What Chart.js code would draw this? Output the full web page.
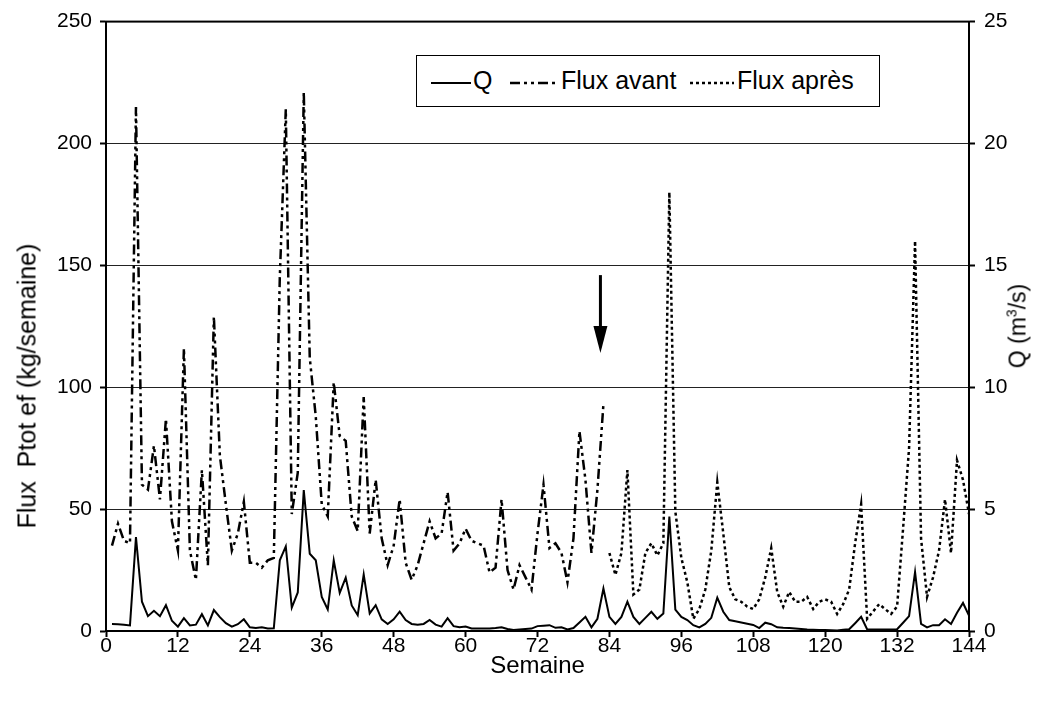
<!DOCTYPE html>
<html lang="fr">
<head>
  <meta charset="UTF-8" />
  <title>Flux Ptot ef et débit Q par semaine</title>
  <script src="https://cdn.jsdelivr.net/npm/chart.js"></script>
  <style>
    body {
      margin: 0;
      background: #fff;
      font-family: "Liberation Sans", Arial, sans-serif;
    }

    .wrap {
      position: relative;
      width: 1039px;
      height: 706px;
    }

    .ytitle {
      position: absolute;
      white-space: pre;
      font-size: 25px;
      color: #000;
      transform: translate(-50%, -50%) rotate(-90deg);
    }

    .ytitle.right {
      font-size: 23px;
    }

    .ytitle sup {
      font-size: 14px;
      vertical-align: 9px;
      line-height: 0;
    }

    #legend {
      position: absolute;
      left: 416px;
      top: 55px;
      width: 462px;
      height: 50px;
      border: 1.5px solid #000;
      background: #fff;
      font-size: 25px;
      color: #000;
    }

    #legend span, #legend svg {
      position: absolute;
    }

    #legend span {
      top: 10px;
      white-space: nowrap;
    }
  </style>
</head>
<body>

  <div class="wrap">
    <canvas id="fluxChart" width="1039" height="706"></canvas>

    <div class="ytitle" style="left: 27px; top: 386px;">Flux  Ptot ef (kg/semaine)</div>
    <div class="ytitle right" style="left: 1018px; top: 326px;">Q (m<sup>3</sup>/s)</div>

    <div id="legend">
      <svg style="left: 14px; top: 22px;" width="40" height="10"><line x1="0" y1="5" x2="40" y2="5" stroke="#000" stroke-width="2" /></svg>
      <span style="left: 56px;">Q</span>
      <svg style="left: 93px; top: 22px;" width="48" height="10"><line x1="0" y1="5" x2="48" y2="5" stroke="#000" stroke-width="2.5" stroke-dasharray="10 4 3 4 3 4" /></svg>
      <span style="left: 144px;">Flux avant</span>
      <svg style="left: 273px; top: 22px;" width="44" height="10"><line x1="0" y1="5" x2="44" y2="5" stroke="#000" stroke-width="2.5" stroke-dasharray="3 3" /></svg>
      <span style="left: 320px;">Flux après</span>
    </div>
  </div>

  <script>
    // semaines 1..144
    const weeks = [
      1, 2, 3, 4, 5, 6, 7, 8, 9, 10, 11, 12, 13, 14, 15, 16, 17, 18, 19, 20, 21, 22, 23, 24,
      25, 26, 27, 28, 29, 30, 31, 32, 33, 34, 35, 36, 37, 38, 39, 40, 41, 42, 43, 44, 45, 46, 47, 48,
      49, 50, 51, 52, 53, 54, 55, 56, 57, 58, 59, 60, 61, 62, 63, 64, 65, 66, 67, 68, 69, 70, 71, 72,
      73, 74, 75, 76, 77, 78, 79, 80, 81, 82, 83, 84, 85, 86, 87, 88, 89, 90, 91, 92, 93, 94, 95, 96,
      97, 98, 99, 100, 101, 102, 103, 104, 105, 106, 107, 108, 109, 110, 111, 112, 113, 114, 115, 116, 117, 118, 119, 120,
      121, 122, 123, 124, 125, 126, 127, 128, 129, 130, 131, 132, 133, 134, 135, 136, 137, 138, 139, 140, 141, 142, 143, 144
    ];

    // débit Q (m3/s), semaines 1..144
    const debitQ = [
      0.29, 0.28, 0.26, 0.23, 3.85, 1.20, 0.61, 0.83, 0.61, 1.06, 0.42, 0.18,
      0.53, 0.23, 0.26, 0.69, 0.23, 0.86, 0.57, 0.32, 0.18, 0.28, 0.48, 0.15,
      0.12, 0.15, 0.10, 0.11, 2.90, 3.47, 0.96, 1.58, 5.78, 3.17, 2.90, 1.40,
      0.88, 2.90, 1.56, 2.19, 1.05, 0.65, 2.32, 0.72, 1.06, 0.48, 0.29, 0.48,
      0.79, 0.45, 0.29, 0.26, 0.29, 0.45, 0.26, 0.18, 0.53, 0.20, 0.15, 0.18,
      0.10, 0.10, 0.10, 0.10, 0.12, 0.15, 0.08, 0.04, 0.06, 0.08, 0.10, 0.20,
      0.22, 0.24, 0.13, 0.15, 0.06, 0.12, 0.35, 0.58, 0.15, 0.50, 1.74, 0.58,
      0.29, 0.58, 1.20, 0.58, 0.29, 0.54, 0.79, 0.50, 0.72, 4.69, 0.88, 0.58,
      0.45, 0.24, 0.15, 0.29, 0.54, 1.37, 0.79, 0.45, 0.40, 0.35, 0.30, 0.25,
      0.12, 0.34, 0.28, 0.15, 0.13, 0.12, 0.10, 0.08, 0.06, 0.05, 0.04, 0.04,
      0.03, 0.02, 0.05, 0.07, 0.32, 0.58, 0.07, 0.06, 0.06, 0.06, 0.06, 0.07,
      0.34, 0.61, 2.42, 0.29, 0.15, 0.24, 0.24, 0.48, 0.29, 0.75, 1.15, 0.63
    ];

    // flux avant (kg/semaine), semaines 1..83
    const fluxAvant = [
      35, 44, 37, 36, 215, 60, 58, 76, 54, 87, 45, 33,
      116, 33, 21, 66, 27, 129, 72, 52, 33, 40, 53, 28,
      28, 26, 29, 30, 145, 214, 48, 65, 221, 112, 88, 52,
      47, 102, 80, 78, 47, 41, 96, 40, 62, 38, 27, 35,
      54, 28, 21, 27, 36, 45, 38, 40, 57, 33, 36, 42,
      37, 36, 35, 24, 26, 54, 25, 17, 27, 22, 17, 40,
      60, 34, 36, 32, 20, 38, 82, 62, 32, 58, 93
    ];

    // flux après (kg/semaine), semaines 84..144
    const fluxApres = [
      32, 23, 32, 66, 15, 17, 32, 36, 31, 36, 180, 49,
      30, 20, 5, 9, 17, 33, 61, 40, 18, 13, 12, 10,
      9, 13, 22, 34, 16, 10, 16, 12, 12, 14, 9, 12,
      13, 12, 7, 11, 17, 36, 52, 5, 8, 11, 9, 7,
      10, 42, 75, 160, 38, 14, 22, 33, 54, 32, 70, 62, 48
    ];

    // flèche : semaine et valeurs (kg/semaine)
    const arrowWeek = 82.5;
    const arrowFrom = 146;
    const arrowTo = 114;

    const avantWeeks = weeks.slice(0, fluxAvant.length);
    const apresWeeks = weeks.slice(weeks.length - fluxApres.length);

    const font = '"Liberation Sans", Arial, sans-serif';

    const plotFrame = {
      id: 'plotFrame',
      afterDraw(chart) {
        const { ctx, chartArea: a } = chart;
        ctx.save();
        ctx.strokeStyle = '#000';
        ctx.lineWidth = 2;
        ctx.strokeRect(a.left, a.top, a.right - a.left, a.bottom - a.top);
        ctx.restore();
      }
    };

    const arrow = {
      id: 'arrow',
      afterDatasetsDraw(chart) {
        const { ctx, scales } = chart;
        const x = scales.x.getPixelForValue(arrowWeek);
        const y0 = scales.y.getPixelForValue(arrowFrom);
        const y1 = scales.y.getPixelForValue(arrowTo);
        ctx.save();
        ctx.strokeStyle = '#000';
        ctx.fillStyle = '#000';
        ctx.lineWidth = 3;
        ctx.beginPath();
        ctx.moveTo(x, y0);
        ctx.lineTo(x, y1 - 22);
        ctx.stroke();
        ctx.beginPath();
        ctx.moveTo(x - 7, y1 - 27);
        ctx.lineTo(x + 7, y1 - 27);
        ctx.lineTo(x, y1);
        ctx.closePath();
        ctx.fill();
        ctx.restore();
      }
    };

    new Chart(document.getElementById('fluxChart'), {
      type: 'line',
      data: {
        datasets: [
          {
            label: 'Q',
            data: weeks.map((w, i) => ({ x: w, y: debitQ[i] })),
            yAxisID: 'y1',
            borderColor: '#000',
            borderWidth: 2,
            pointRadius: 0,
            tension: 0
          },
          {
            label: 'Flux avant',
            data: avantWeeks.map((w, i) => ({ x: w, y: fluxAvant[i] })),
            yAxisID: 'y',
            borderColor: '#000',
            borderWidth: 2.5,
            borderDash: [10, 4, 3, 4, 3, 4],
            pointRadius: 0,
            tension: 0
          },
          {
            label: 'Flux après',
            data: apresWeeks.map((w, i) => ({ x: w, y: fluxApres[i] })),
            yAxisID: 'y',
            borderColor: '#000',
            borderWidth: 2.5,
            borderDash: [3, 3],
            pointRadius: 0,
            tension: 0
          }
        ]
      },
      options: {
        responsive: false,
        animation: false,
        layout: { padding: { top: 18, left: 0, right: 0, bottom: 0 } },
        plugins: {
          legend: { display: false },
          tooltip: { enabled: false }
        },
        scales: {
          x: {
            type: 'linear',
            min: 0,
            max: 144,
            ticks: { stepSize: 12, color: '#000', font: { family: font, size: 21 }, padding: -3, maxRotation: 0 },
            grid: { drawOnChartArea: false, drawTicks: true, tickLength: 6, tickColor: '#000', tickWidth: 2 },
            border: { display: true, color: '#000', width: 2 },
            title: { display: true, text: 'Semaine', color: '#000', font: { family: font, size: 24 }, padding: { top: 0, bottom: 25 } },
            afterFit(scale) { scale.height = 75; }
          },
          y: {
            position: 'left',
            min: 0,
            max: 250,
            ticks: { stepSize: 50, color: '#000', font: { family: font, size: 21 }, padding: 8 },
            grid: { color: '#222', lineWidth: 1, drawTicks: true, tickLength: 6, tickColor: '#000', tickWidth: 2 },
            border: { display: true, color: '#000', width: 2 },
            afterFit(scale) { scale.width = 106; }
          },
          y1: {
            position: 'right',
            min: 0,
            max: 25,
            ticks: { stepSize: 5, color: '#000', font: { family: font, size: 21 }, padding: 9 },
            grid: { drawOnChartArea: false, drawTicks: true, tickLength: 6, tickColor: '#000', tickWidth: 2 },
            border: { display: true, color: '#000', width: 2 },
            afterFit(scale) { scale.width = 70; }
          }
        }
      },
      plugins: [plotFrame, arrow]
    });
  </script>
</body>
</html>
